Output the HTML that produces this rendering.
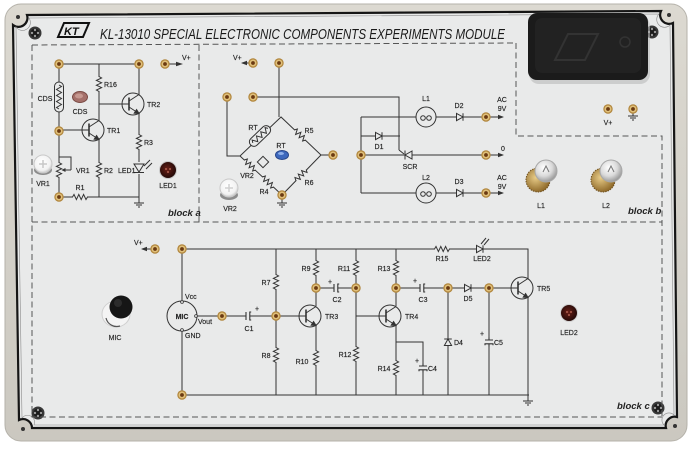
<!DOCTYPE html>
<html><head><meta charset="utf-8"><title>KL-13010 Special Electronic Components Experiments Module</title>
<style>
html,body{margin:0;padding:0;background:#fff;width:692px;height:449px;overflow:hidden}
svg{display:block}
.w{fill:none;stroke:#333;stroke-width:1}
.d{fill:none;stroke:#555;stroke-width:1;stroke-dasharray:6 3.5}
.l{font-size:7px;fill:#222;stroke:#222;stroke-width:0.15}
.m{text-anchor:middle}
.blk{font-size:9.5px;font-style:italic;font-weight:bold;fill:#222}
</style></head><body>
<svg width="692" height="449" viewBox="0 0 692 449" xmlns="http://www.w3.org/2000/svg" font-family="Liberation Sans, sans-serif">
<defs>
<linearGradient id="fr" x1="0" y1="0" x2="0" y2="1"><stop offset="0" stop-color="#dcd9d1"/><stop offset="1" stop-color="#cbc8c0"/></linearGradient>
<radialGradient id="bulb" cx="0.4" cy="0.35" r="0.7"><stop offset="0" stop-color="#ffffff"/><stop offset="0.55" stop-color="#dadada"/><stop offset="1" stop-color="#8e8e8e"/></radialGradient>
<radialGradient id="gold" cx="0.4" cy="0.4" r="0.65"><stop offset="0" stop-color="#e8cc88"/><stop offset="1" stop-color="#8a6424"/></radialGradient>
<radialGradient id="led" cx="0.45" cy="0.45" r="0.6"><stop offset="0" stop-color="#6a2018"/><stop offset="1" stop-color="#1e0806"/></radialGradient>
<radialGradient id="knob" cx="0.45" cy="0.4" r="0.65"><stop offset="0" stop-color="#ffffff"/><stop offset="0.7" stop-color="#f2f2f2"/><stop offset="1" stop-color="#b8b8b8"/></radialGradient>
<g id="t"><circle r="4.7" fill="#b0843a"/><circle r="3.5" fill="#e0c07a"/><circle r="1.9" fill="#6b3a12"/></g>
<g id="rv"><rect x="-3.5" y="-7" width="7" height="14" fill="#e9eaea"/><path d="M0,-7.5 L2.6,-6 L-2.6,-3.6 L2.6,-1.2 L-2.6,1.2 L2.6,3.6 L-2.6,6 L0,7.5" fill="none" stroke="#333" stroke-width="1"/></g>
<g id="rh"><use href="#rv" transform="rotate(90)"/></g>
<g id="ch"><rect x="-4" y="-5" width="8" height="10" fill="#e9eaea"/><path d="M-4.5,0 H-2 M2,0 H4.5 M-2,-4 V4 M3.2,-4 H1.8 V4 H3.2" fill="none" stroke="#333" stroke-width="1.1"/></g>
<g id="cv"><use href="#ch" transform="rotate(90)"/></g>
<g id="dr"><rect x="-5" y="-5" width="10" height="10" fill="#e9eaea"/><path d="M-5,0 H5" stroke="#333"/><path d="M-3.5,-3.6 L3,0 L-3.5,3.6 Z" fill="#e9eaea" stroke="#333"/><path d="M3,-3.8 V3.8" stroke="#333"/></g>
<g id="gnd" fill="none" stroke="#333"><path d="M0,0 V3 M-5,3 H5 M-3,5 H3 M-1,7 H1"/></g>
<g id="ar"><path d="M0,0 H13" stroke="#333"/><path d="M14,0 L8,-2.2 L8,2.2 Z" fill="#333"/></g>
<g id="al"><path d="M0,0 H-9" stroke="#333"/><path d="M-10,0 L-4,-2.2 L-4,2.2 Z" fill="#333"/></g>
<g id="npn" fill="none" stroke="#333"><circle r="11" fill="#e9eaea"/><path d="M-11,0 H-4"/><path d="M-4,-6.5 V6.5" stroke-width="1.6"/><path d="M-4,-3 L6,-9.5 M-4,3 L6,9.5"/><path d="M6,9.5 L1.2,9.2 L3.6,5.6 Z" fill="#333"/></g>
<g id="lamp"><circle r="10" fill="#e9eaea" stroke="#333"/><circle cx="-3" cy="1" r="2.3" fill="none" stroke="#333"/><circle cx="3" cy="1" r="2.3" fill="none" stroke="#333"/></g>
<g id="scr"><circle r="6.5" fill="#383838"/><circle r="4.5" fill="#1a1a1a"/><circle cx="-3" cy="0" r="1.2" fill="#9a9a9a"/><circle cx="3" cy="0" r="1.2" fill="#9a9a9a"/><circle cx="0" cy="-3" r="1.2" fill="#9a9a9a"/><circle cx="0" cy="3" r="1.2" fill="#9a9a9a"/></g>
</defs>

<!-- outer frame -->
<rect x="5" y="4" width="682" height="437" rx="16" fill="url(#fr)" stroke="#b5b2aa" stroke-width="1"/>
<!-- panel -->
<path d="M27,15 L661,11 A9 9 0 0 0 673,23 L677,417 A9 9 0 0 0 666,428 L32,428 A9 9 0 0 0 19,420 L13,25 A9 9 0 0 0 27,15 Z" fill="#e9eaea" stroke="#151515" stroke-width="2.2"/>
<path d="M29,18 L659,14 A7 7 0 0 0 670,25 L674,415 A7 7 0 0 0 664,425 L34,425 A7 7 0 0 0 22,418 L16,27 A7 7 0 0 0 29,18 Z" fill="none" stroke="#8a8a8a" stroke-width="0.6"/>
<circle cx="18" cy="17" r="2" fill="#333"/>
<circle cx="669" cy="15" r="2" fill="#333"/>
<circle cx="23" cy="429" r="2" fill="#333"/>
<circle cx="675" cy="426" r="2" fill="#333"/>

<!-- screws -->
<use href="#scr" x="35" y="33"/>
<use href="#scr" x="652" y="32"/>
<use href="#scr" x="38" y="413"/>
<use href="#scr" x="658" y="408"/>

<!-- switch box -->
<rect x="529" y="16" width="121" height="68" rx="10" fill="#b9b9b9" opacity="0.6"/>
<rect x="528" y="13" width="120" height="67" rx="9" fill="#1b1b1b"/>
<rect x="535" y="18" width="106" height="55" rx="7" fill="#222"/>
<path d="M555,60 L568,34 L598,34 L585,60 Z" fill="none" stroke="#333" stroke-width="2"/>
<circle cx="625" cy="42" r="5" fill="none" stroke="#333" stroke-width="1.5"/>

<!-- logo & title -->
<path d="M58,37 L64,23 L89,23 L83,37 Z" fill="#e9eaea" stroke="#111" stroke-width="2"/>
<text x="64" y="35" font-size="11" font-style="italic" font-weight="bold" fill="#111">KT</text>
<text x="100" y="39" font-size="15" font-style="italic" fill="#1a1a1a" textLength="405" lengthAdjust="spacingAndGlyphs">KL-13010  SPECIAL ELECTRONIC COMPONENTS EXPERIMENTS MODULE</text>

<!-- dashed block borders -->
<path class="d" d="M32,45 L516,43 M516,43 V136 H662 V417 M199,45 V222 M32,45 V417 H662 M32,222 H662"/>

<!-- ============ BLOCK A ============ -->
<path class="w" d="M59,64 H139 M99,64 V121 M99,139 V197 M99,104 H122 M139,64 V95 M139,113 V197 M59,64 V197 M59,130 H82 M59,197 H139 M139,197 V200 M168,64 H176"/>
<path d="M183,64 L176,61.8 L176,66.2 Z" fill="#333"/>
<rect x="54.5" y="82" width="9" height="30" rx="4.5" fill="#e9eaea" stroke="#333"/>
<path class="w" d="M59,85 l2.5,1.5 l-5,3 l5,3 l-5,3 l5,3 l-5,3 l5,3 l-5,3 l2.5,1.5"/>
<use href="#rv" x="99" y="84"/>
<use href="#rv" x="139" y="142"/>
<use href="#rv" x="99" y="170"/>
<use href="#rv" x="59" y="170"/>
<use href="#rh" x="80" y="197"/>
<path class="w" d="M71,170 H62 M71,170 V157 H59"/>
<path d="M61.5,170 L65.5,168 L65.5,172 Z" fill="#333"/>
<use href="#npn" x="93" y="130"/>
<use href="#npn" x="133" y="104"/>
<rect x="134" y="162" width="10" height="12" fill="#e9eaea"/>
<path d="M134,164 H144 L139,172 Z" fill="#e9eaea" stroke="#333"/>
<path class="w" d="M134,172.5 H144 M144,166 L150,160 M146,169 L152,163"/>
<use href="#gnd" x="139" y="200"/>
<text class="l m" x="45" y="101">CDS</text>
<text class="l" x="104" y="87">R16</text>
<text class="l" x="147" y="107">TR2</text>
<text class="l" x="107" y="133">TR1</text>
<text class="l" x="144" y="145">R3</text>
<text class="l" x="76" y="173">VR1</text>
<text class="l" x="104" y="173">R2</text>
<text class="l" x="118" y="173">LED1</text>
<text class="l m" x="80" y="190">R1</text>
<text class="l" x="182" y="60">V+</text>
<!-- real parts a -->
<ellipse cx="80" cy="97" rx="7.5" ry="5.5" fill="#a5706a" stroke="#7a4a44"/>
<ellipse cx="79" cy="96" rx="4" ry="2.5" fill="#c69890"/>
<text class="l m" x="80" y="114">CDS</text>
<ellipse cx="43" cy="170" rx="9" ry="5" fill="#8c8c8c"/>
<circle cx="43" cy="164" r="9" fill="url(#knob)" stroke="#c8c8c8"/>
<path d="M43,160 V168 M39,164 H47" stroke="#c8c8c8" stroke-width="1.5"/>
<text class="l m" x="43" y="186">VR1</text>
<circle cx="168" cy="170" r="9" fill="#c9c9c9"/>
<circle cx="168" cy="170" r="8" fill="url(#led)"/>
<circle cx="166" cy="169" r="1" fill="#b06050"/><circle cx="170" cy="169" r="1" fill="#b06050"/><circle cx="168" cy="172" r="1" fill="#b06050"/>
<text class="l m" x="168" y="188">LED1</text>
<text class="blk" x="168" y="216">block a</text>

<!-- ============ BLOCK B ============ -->
<use href="#al" x="251" y="63"/>
<text class="l" x="233" y="60">V+</text>
<path class="w" d="M279,63 V117 M253,97 H399 V150 M227,97 V156 H240 M281,117 L240,156 L282,195 L321,155 Z M321,155 H333 M282,195 V200"/>
<use href="#gnd" x="282" y="200"/>
<g transform="translate(260,136) rotate(-44)"><rect x="-13" y="-4.5" width="26" height="9" rx="4.5" fill="#e9eaea" stroke="#333"/><path class="w" d="M-10,0 l1.5,-2.5 l3,5 l3,-5 l3,5 l3,-5 l3,5 l3,-5 l1.5,2.5"/></g>
<use href="#rh" transform="translate(300,135) rotate(43)"/>
<use href="#rh" transform="translate(250,165) rotate(43)"/>
<use href="#rh" transform="translate(268,182) rotate(43)"/>
<use href="#rh" transform="translate(301,175) rotate(-46)"/>
<rect x="259" y="158" width="8" height="8" transform="rotate(45 263 162)" fill="none" stroke="#333"/>
<text class="l m" x="253" y="130">RT</text>
<text class="l m" x="309" y="133">R5</text>
<text class="l m" x="281" y="148">RT</text>
<text class="l m" x="247" y="178">VR2</text>
<text class="l m" x="264" y="194">R4</text>
<text class="l m" x="309" y="185">R6</text>
<ellipse cx="282" cy="155" rx="6.5" ry="4.5" fill="#3d68bd" stroke="#28468a"/>
<ellipse cx="281" cy="153.5" rx="3" ry="1.5" fill="#8fb0ea"/>
<!-- VR2 real -->
<ellipse cx="229" cy="195" rx="9" ry="5" fill="#8c8c8c"/>
<circle cx="229" cy="188" r="9" fill="url(#knob)" stroke="#c8c8c8"/>
<path d="M229,184 V192 M225,188 H233" stroke="#d0d0d0" stroke-width="1.5"/>
<text class="l m" x="230" y="211">VR2</text>

<path class="w" d="M361,117 V193 M361,117 H416 M436,117 H486 M361,136 H400 M361,155 H486 M361,193 H416 M436,193 H486"/>
<use href="#lamp" x="426" y="117"/>
<use href="#lamp" x="426" y="193"/>
<use href="#dr" x="460" y="117"/>
<use href="#dr" x="460" y="193"/>
<use href="#dr" x="379" y="136"/>
<!-- SCR -->
<rect x="402" y="150" width="12" height="10" fill="#e9eaea"/>
<path class="w" d="M400,155 H414"/>
<path d="M412,151 L405,155 L412,159 Z" fill="#e9eaea" stroke="#333"/>
<path class="w" d="M405,150.5 V159.5 M399,150 L404,154"/>
<use href="#ar" x="490" y="117"/>
<use href="#ar" x="490" y="155"/>
<use href="#ar" x="490" y="193"/>
<text class="l m" x="426" y="101">L1</text>
<text class="l m" x="459" y="108">D2</text>
<text class="l m" x="379" y="149">D1</text>
<text class="l m" x="410" y="169">SCR</text>
<text class="l m" x="426" y="180">L2</text>
<text class="l m" x="459" y="184">D3</text>
<text class="l m" x="502" y="102">AC</text>
<text class="l m" x="502" y="111">9V</text>
<text class="l m" x="503" y="151">0</text>
<text class="l m" x="502" y="180">AC</text>
<text class="l m" x="502" y="189">9V</text>
<!-- lamps real -->
<circle cx="538" cy="180" r="12" fill="url(#gold)" stroke="#6e5020" stroke-dasharray="1.5 1"/>
<circle cx="546" cy="171" r="11" fill="url(#bulb)" stroke="#a8a8a8"/>
<path d="M543,172 L546,166 L549,172" fill="none" stroke="#777"/>
<text class="l m" x="541" y="208">L1</text>
<circle cx="603" cy="180" r="12" fill="url(#gold)" stroke="#6e5020" stroke-dasharray="1.5 1"/>
<circle cx="611" cy="171" r="11" fill="url(#bulb)" stroke="#a8a8a8"/>
<path d="M608,172 L611,166 L614,172" fill="none" stroke="#777"/>
<text class="l m" x="606" y="208">L2</text>
<text class="l m" x="608" y="125">V+</text>
<use href="#gnd" x="633" y="113"/>
<text class="blk" x="628" y="214">block b</text>

<!-- ============ BLOCK C ============ -->
<use href="#al" x="151" y="249"/>
<text class="l" x="134" y="245">V+</text>
<path class="w" d="M182,249 H528 V279 M182,249 V301 M182,331 V395 H529 M197,316 H299 M276,249 V395 M316,249 V306 M316,326 V395 M316,288 H356 M356,249 V395 M356,316 H379 M396,249 V306 M396,326 V395 M396,342 H423 V395 M396,288 H511 M448,288 V395 M489,288 V395 M528,297 V398"/>
<use href="#gnd" x="528" y="398"/>
<circle cx="182" cy="316" r="15" fill="#e9eaea" stroke="#333"/>
<circle cx="182" cy="302" r="1.4" fill="#e9eaea" stroke="#333" stroke-width="0.8"/>
<circle cx="196" cy="316" r="1.4" fill="#e9eaea" stroke="#333" stroke-width="0.8"/>
<circle cx="182" cy="330" r="1.4" fill="#e9eaea" stroke="#333" stroke-width="0.8"/>
<text class="l m" x="182" y="319" font-size="8" font-weight="bold">MIC</text>
<text class="l" x="185" y="299">Vcc</text>
<text class="l" x="198" y="324">Vout</text>
<text class="l" x="185" y="338">GND</text>
<use href="#ch" x="248" y="316"/>
<use href="#ch" x="336" y="288"/>
<use href="#ch" x="422" y="288"/>
<use href="#cv" x="423" y="368"/>
<use href="#cv" x="489" y="342"/>
<use href="#rv" x="276" y="282"/>
<use href="#rv" x="276" y="355"/>
<use href="#rv" x="316" y="268"/>
<use href="#rv" x="316" y="358"/>
<use href="#rv" x="356" y="268"/>
<use href="#rv" x="356" y="354"/>
<use href="#rv" x="396" y="268"/>
<use href="#rv" x="396" y="368"/>
<use href="#rh" x="442" y="249"/>
<use href="#dr" x="468" y="288"/>
<use href="#dr" transform="translate(448,342) rotate(-90)"/>
<!-- LED2 symbol -->
<use href="#dr" x="480" y="249"/>
<path class="w" d="M481,244 L486,238 M484,245 L489,239"/>
<use href="#npn" x="310" y="316"/>
<use href="#npn" x="390" y="316"/>
<use href="#npn" x="522" y="288"/>
<text class="l m" x="257" y="311">+</text>
<text class="l m" x="330" y="284">+</text>
<text class="l m" x="415" y="283">+</text>
<text class="l m" x="417" y="363">+</text>
<text class="l m" x="482" y="336">+</text>
<text class="l m" x="249" y="331">C1</text>
<text class="l m" x="337" y="302">C2</text>
<text class="l m" x="423" y="302">C3</text>
<text class="l" x="428" y="371">C4</text>
<text class="l" x="494" y="345">C5</text>
<text class="l" x="454" y="345">D4</text>
<text class="l m" x="468" y="301">D5</text>
<text class="l m" x="266" y="285">R7</text>
<text class="l m" x="266" y="358">R8</text>
<text class="l m" x="306" y="271">R9</text>
<text class="l m" x="302" y="364">R10</text>
<text class="l m" x="344" y="271">R11</text>
<text class="l m" x="345" y="357">R12</text>
<text class="l m" x="384" y="271">R13</text>
<text class="l m" x="384" y="371">R14</text>
<text class="l m" x="442" y="261">R15</text>
<text class="l m" x="482" y="261">LED2</text>
<text class="l" x="325" y="319">TR3</text>
<text class="l" x="405" y="319">TR4</text>
<text class="l" x="537" y="291">TR5</text>
<!-- MIC real -->
<ellipse cx="116" cy="314" rx="14" ry="13" fill="#f4f4f4" stroke="#cfcfcf"/>
<path d="M106,318 A11 11 0 0 0 120,326" fill="none" stroke="#555" stroke-width="1.2"/>
<circle cx="121" cy="307" r="11.5" fill="#161616"/>
<circle cx="118" cy="303" r="4" fill="#2c2c2c"/>
<text class="l m" x="115" y="340">MIC</text>
<!-- LED2 real -->
<circle cx="569" cy="313" r="9" fill="#d0d0d0"/>
<circle cx="569" cy="313" r="8" fill="url(#led)"/>
<circle cx="567" cy="312" r="1" fill="#b06050"/><circle cx="571" cy="312" r="1" fill="#b06050"/><circle cx="569" cy="315" r="1" fill="#b06050"/>
<text class="l m" x="569" y="335">LED2</text>
<text class="blk" x="617" y="409">block c</text>

<!-- terminals -->
<use href="#t" x="59" y="64"/><use href="#t" x="139" y="64"/><use href="#t" x="165" y="64"/>
<use href="#t" x="59" y="131"/><use href="#t" x="59" y="197"/>
<use href="#t" x="253" y="63"/><use href="#t" x="279" y="63"/>
<use href="#t" x="227" y="97"/><use href="#t" x="253" y="97"/>
<use href="#t" x="333" y="155"/><use href="#t" x="282" y="195"/>
<use href="#t" x="361" y="155"/>
<use href="#t" x="486" y="117"/><use href="#t" x="486" y="155"/><use href="#t" x="486" y="193"/>
<use href="#t" x="608" y="109"/><use href="#t" x="633" y="109"/>
<use href="#t" x="155" y="249"/><use href="#t" x="182" y="249"/>
<use href="#t" x="182" y="395"/>
<use href="#t" x="222" y="316"/><use href="#t" x="276" y="316"/>
<use href="#t" x="316" y="288"/><use href="#t" x="356" y="288"/>
<use href="#t" x="396" y="288"/><use href="#t" x="448" y="288"/><use href="#t" x="489" y="288"/>
</svg>
</body></html>
